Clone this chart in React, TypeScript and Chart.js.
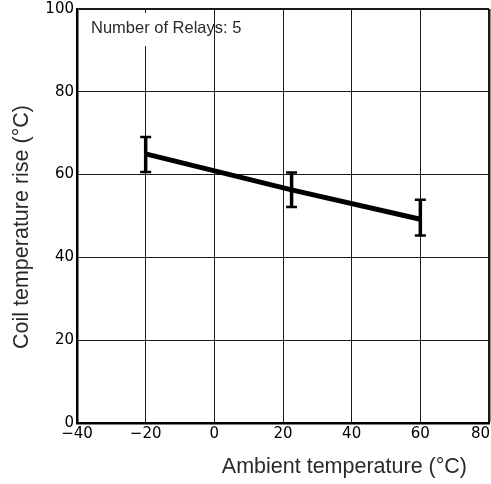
import { useEffect, useRef } from 'react';
import { Chart, registerables } from 'chart.js';

Chart.register(...registerables);

const ambientTemps = [-20, 22.5, 60];
const coilRise = [65.0, 56.3, 49.2];
const coilRiseHigh = [69.1, 60.5, 53.9];
const coilRiseLow = [60.6, 52.2, 45.3];
const xTickValues = [-40, -20, 0, 20, 40, 60, 80];
const yTickValues = [0, 20, 40, 60, 80, 100];
const xTitle = 'Ambient temperature (°C)';
const yTitle = 'Coil temperature rise (°C)';
const noteText = 'Number of Relays: 5';

const FONT = '"Liberation Sans", Arial, Helvetica, sans-serif';
const TICK_FONT = '"DejaVu Sans", "Liberation Sans", sans-serif';

const fmtTick = (v: number) => (v < 0 ? '\u2212' + Math.abs(v) : String(v));

const errorBarPlugin = {
  id: 'errorBars',
  beforeDatasetsDraw(chart: any) {
    // the note label interrupts the -20 grid line near the top
    const { ctx, scales } = chart;
    const px = scales.x.getPixelForValue(-20);
    ctx.save();
    ctx.fillStyle = '#fff';
    ctx.fillRect(px - 1.5, scales.y.top + 4, 3, 33);
    ctx.restore();
  },
  afterDatasetsDraw(chart: any) {
    const { ctx, scales } = chart;
    const x = scales.x;
    const y = scales.y;
    ctx.save();
    ctx.strokeStyle = '#000';
    ambientTemps.forEach((t, i) => {
      const px = x.getPixelForValue(t);
      const top = y.getPixelForValue(coilRiseHigh[i]);
      const bot = y.getPixelForValue(coilRiseLow[i]);
      ctx.lineWidth = 3.5;
      ctx.beginPath();
      ctx.moveTo(px, top);
      ctx.lineTo(px, bot);
      ctx.stroke();
      ctx.lineWidth = 2.5;
      ctx.beginPath();
      ctx.moveTo(px - 5.5, top);
      ctx.lineTo(px + 5.5, top);
      ctx.moveTo(px - 5.5, bot);
      ctx.lineTo(px + 5.5, bot);
      ctx.stroke();
    });
    ctx.restore();
  },
};

const textPlugin = {
  id: 'texts',
  afterDraw(chart: any) {
    const { ctx, scales, width } = chart;
    const x = scales.x;
    ctx.save();
    // x tick labels
    ctx.fillStyle = '#000';
    ctx.font = `15px ${TICK_FONT}`;
    ctx.textBaseline = 'middle';
    ctx.textAlign = 'center';
    xTickValues.forEach((v) => {
      const label = fmtTick(v);
      const w = ctx.measureText(label).width;
      let px = x.getPixelForValue(v);
      if (px + w / 2 > width - 1) px = width - 1 - w / 2;
      ctx.fillText(label, px, x.top + 11);
    });
    // x title
    ctx.fillStyle = '#2a2a2a';
    ctx.font = `21.5px ${FONT}`;
    ctx.textAlign = 'right';
    ctx.fillText(xTitle, 467, 467);
    // y title
    ctx.save();
    ctx.translate(22, 227);
    ctx.rotate(-Math.PI / 2);
    ctx.textAlign = 'center';
    ctx.fillText(yTitle, 0, 0);
    ctx.restore();
    // note
    ctx.font = `16.5px ${FONT}`;
    ctx.textAlign = 'left';
    ctx.fillText(noteText, 91, 28);
    ctx.restore();
  },
};

export default function App() {
  const canvasRef = useRef<HTMLCanvasElement | null>(null);

  useEffect(() => {
    const canvas = canvasRef.current;
    if (!canvas) return;
    const chart = new Chart(canvas, {
      type: 'line',
      data: {
        datasets: [
          {
            label: 'Coil temperature rise',
            data: ambientTemps.map((t, i) => ({ x: t, y: coilRise[i] })),
            borderColor: '#000',
            backgroundColor: '#000',
            borderWidth: 5,
            pointRadius: 0,
            tension: 0,
            fill: false,
          },
        ],
      },
      options: {
        responsive: false,
        animation: false,
        devicePixelRatio: 1,
        layout: { padding: { top: 9, right: 2, left: 0, bottom: 0 } },
        plugins: {
          legend: { display: false },
          tooltip: { enabled: false },
        },
        scales: {
          x: {
            type: 'linear',
            min: -40,
            max: 80,
            afterBuildTicks: (s: any) => {
              s.ticks = xTickValues.map((v) => ({ value: v }));
            },
            ticks: { display: false },
            grid: {
              color: '#1a1a1a',
              lineWidth: (c: any) => (c.tick && c.tick.value === 80 ? 2.5 : 1),
              drawTicks: false,
            },
            border: { color: '#000', width: 2.5 },
            afterFit: (s: any) => {
              s.height = 61;
              s.paddingLeft = 0;
              s.paddingRight = 0;
            },
          },
          y: {
            type: 'linear',
            min: 0,
            max: 100,
            afterBuildTicks: (s: any) => {
              s.ticks = yTickValues.map((v) => ({ value: v }));
            },
            ticks: {
              color: '#000',
              font: { size: 15, family: TICK_FONT },
              padding: 3,
              callback: (v: any) => fmtTick(Number(v)),
            },
            grid: {
              color: '#1a1a1a',
              lineWidth: (c: any) => (c.tick && c.tick.value === 100 ? 2 : 1),
              drawTicks: false,
            },
            border: { color: '#000', width: 2.5 },
            afterFit: (s: any) => {
              s.width = 77;
              s.paddingTop = 0;
              s.paddingBottom = 0;
            },
          },
        },
      },
      plugins: [errorBarPlugin, textPlugin],
    } as any);
    return () => chart.destroy();
  }, []);

  return (
    <div style={{ position: 'absolute', left: 0, top: 0, width: 491, height: 484, background: '#fff' }}>
      <canvas ref={canvasRef} width={491} height={484} style={{ width: 491, height: 484, display: 'block' }} />
    </div>
  );
}
